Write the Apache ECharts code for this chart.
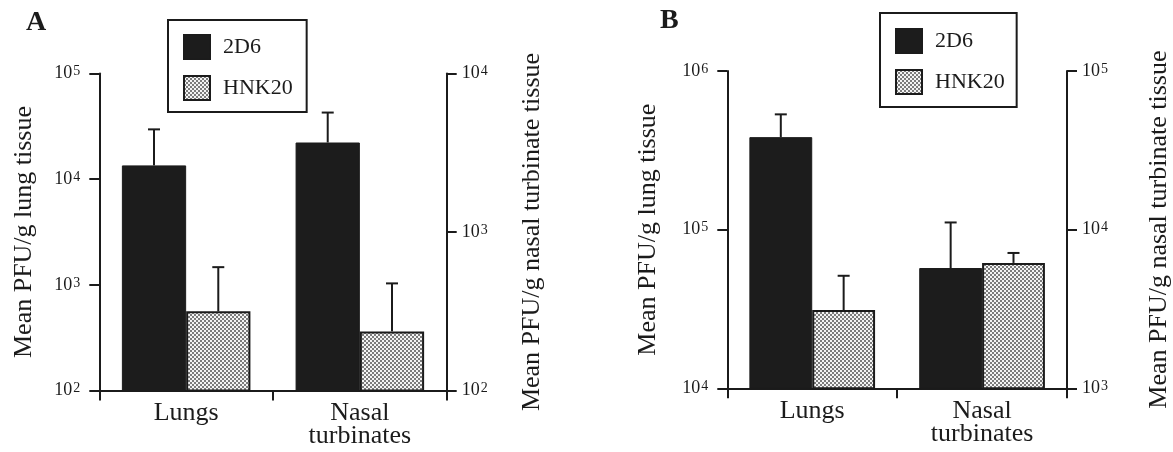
<!DOCTYPE html>
<html>
<head>
<meta charset="utf-8">
<script src="https://cdn.jsdelivr.net/npm/echarts@6/dist/echarts.min.js"></script>
<style>
  html, body { margin: 0; padding: 0; background: #fff; }
  #chart { width: 1173px; height: 452px; }
</style>
</head>
<body>
<div id="chart"></div>
<script>
// ---------------- data ----------------
const categories = ['Lungs', 'Nasal\nturbinates'];
const seriesNames = ['2D6', 'HNK20'];
// values: [Lungs (left axis), Nasal turbinates (right axis)]
const panelA_2D6 = [13500, 3670];
const panelA_2D6_upper = [29600, 5670];
const panelA_HNK20 = [561, 236];
const panelA_HNK20_upper = [1470, 474];
const panelB_2D6 = [383000, 5730];
const panelB_2D6_upper = [533000, 11100];
const panelB_HNK20 = [31100, 6170];
const panelB_HNK20_upper = [51200, 7130];
// axis ranges [min, max]
const axisA_left = [100, 100000];
const axisA_right = [100, 10000];
const axisB_left = [10000, 1000000];
const axisB_right = [1000, 100000];
const panelLabels = ['A', 'B'];
const leftAxisTitle = 'Mean PFU/g lung tissue';
const rightAxisTitle = 'Mean PFU/g nasal turbinate tissue';

// ---------------- styles ----------------
const INK = '#1b1b1b';
const FONT = '"Liberation Serif", "Times New Roman", serif';

function makePattern() {
  const c = document.createElement('canvas');
  c.width = 4; c.height = 4;
  const ctx = c.getContext('2d');
  ctx.fillStyle = '#f4f4f4';
  ctx.fillRect(0, 0, 4, 4);
  ctx.fillStyle = '#7c7c7c';
  ctx.fillRect(0, 0, 2, 2);
  ctx.fillRect(2, 2, 2, 2);
  return { image: c, repeat: 'repeat' };
}
const pattern = makePattern();

const seriesStyles = [
  { color: '#1c1c1c', borderColor: INK, borderWidth: 1 },
  { color: pattern, borderColor: INK, borderWidth: 2 }
];

const tickLabel = {
  color: INK,
  fontFamily: FONT,
  formatter: function (v) {
    const e = Math.round(Math.log10(v));
    return '{b|10}{s|' + e + '}';
  },
  rich: {
    b: { fontSize: 18, fontFamily: FONT, color: INK, lineHeight: 18, verticalAlign: 'bottom' },
    s: { fontSize: 14, fontFamily: FONT, color: INK, lineHeight: 14, verticalAlign: 'top', padding: [0, 0, 10, 1] }
  }
};

const axisLineStyle = { show: true, lineStyle: { color: INK, width: 2 } };
const axisTickStyle = { show: true, inside: false, length: 10, lineStyle: { color: INK, width: 2 } };

const grids = [
  { left: 99.3, right: 1173 - 446.7, top: 73.5, bottom: 452 - 390.5 },
  { left: 727.3, right: 1173 - 1072.3, top: 71, bottom: 452 - 388.3 }
];

const panels = [
  { v2d6: panelA_2D6, u2d6: panelA_2D6_upper, vh: panelA_HNK20, uh: panelA_HNK20_upper,
    left: axisA_left, right: axisA_right, gapL: 62, gapR: 72 },
  { v2d6: panelB_2D6, u2d6: panelB_2D6_upper, vh: panelB_HNK20, uh: panelB_HNK20_upper,
    left: axisB_left, right: axisB_right, gapL: 66, gapR: 79 }
];

const xAxes = [], yAxes = [], series = [];

function errRender(sign) {
  return function (params, api) {
    const c = api.value(0);
    const p0 = api.coord([c, api.value(1)]);
    const p1 = api.coord([c, api.value(2)]);
    const bw = api.size([1, 1], [c, api.value(1)])[0];
    const x = p0[0] + sign * bw * 0.185;
    return {
      type: 'group',
      children: [
        { type: 'line', shape: { x1: x, y1: p0[1], x2: x, y2: p1[1] }, style: { stroke: INK, lineWidth: 2 } },
        { type: 'line', shape: { x1: x - 6, y1: p1[1], x2: x + 6, y2: p1[1] }, style: { stroke: INK, lineWidth: 2 } }
      ]
    };
  };
}

panels.forEach(function (p, g) {
  xAxes.push({
    gridIndex: g, type: 'category', data: categories, position: 'bottom',
    axisLine: axisLineStyle, axisTick: axisTickStyle,
    axisLabel: { interval: 0, margin: 11, fontSize: 26, lineHeight: 23, fontFamily: FONT, color: INK },
    splitLine: { show: false }
  });
  xAxes.push({ gridIndex: g, type: 'category', data: categories, position: 'bottom', show: false });
  yAxes.push({
    gridIndex: g, type: 'log', logBase: 10, position: 'left', min: p.left[0], max: p.left[1],
    name: leftAxisTitle, nameLocation: 'middle', nameRotate: 90, nameGap: p.gapL,
    nameTextStyle: { fontSize: 26, fontFamily: FONT, color: INK },
    axisLine: axisLineStyle, axisTick: axisTickStyle, splitLine: { show: false },
    minorTick: { show: false },
    axisLabel: Object.assign({ margin: 19 }, tickLabel)
  });
  yAxes.push({
    gridIndex: g, type: 'log', logBase: 10, position: 'right', min: p.right[0], max: p.right[1],
    name: rightAxisTitle, nameLocation: 'middle', nameRotate: 90, nameGap: p.gapR,
    nameTextStyle: { fontSize: 26, fontFamily: FONT, color: INK },
    axisLine: axisLineStyle, axisTick: axisTickStyle, splitLine: { show: false },
    minorTick: { show: false },
    axisLabel: Object.assign({ margin: 15 }, tickLabel)
  });
  const xl = 2 * g, xr = 2 * g + 1, yl = 2 * g, yr = 2 * g + 1;
  const vals = [p.v2d6, p.vh];
  const ups = [p.u2d6, p.uh];
  [0, 1].forEach(function (s) {
    series.push({
      name: seriesNames[s], type: 'bar', xAxisIndex: xl, yAxisIndex: yl,
      data: [vals[s][0], '-'], barGap: '0%', barCategoryGap: '26%',
      itemStyle: seriesStyles[s], clip: true, z: 2
    });
  });
  [0, 1].forEach(function (s) {
    series.push({
      name: seriesNames[s], type: 'bar', xAxisIndex: xr, yAxisIndex: yr,
      data: ['-', vals[s][1]], barGap: '0%', barCategoryGap: '26%',
      itemStyle: seriesStyles[s], clip: true, z: 2
    });
  });
  [0, 1].forEach(function (s) {
    const sign = s === 0 ? -1 : 1;
    series.push({
      name: 'err', type: 'custom', xAxisIndex: xl, yAxisIndex: yl, z: 3, silent: true,
      renderItem: errRender(sign), encode: { x: 0, y: [1, 2] },
      data: [[0, vals[s][0], ups[s][0]]]
    });
    series.push({
      name: 'err', type: 'custom', xAxisIndex: xr, yAxisIndex: yr, z: 3, silent: true,
      renderItem: errRender(sign), encode: { x: 0, y: [1, 2] },
      data: [[1, vals[s][1], ups[s][1]]]
    });
  });
});

const legendCommon = {
  orient: 'vertical', data: seriesNames, icon: 'rect',
  itemWidth: 26, itemHeight: 24, itemGap: 15,
  borderColor: INK, borderWidth: 2, backgroundColor: '#fff',
  selectedMode: false,
  textStyle: { fontSize: 22, fontFamily: FONT, color: INK, padding: [0, 0, 0, 8] }
};

const option = {
  animation: false,
  backgroundColor: '#fff',
  title: [
    { text: panelLabels[0], left: 21, top: 4, textStyle: { fontSize: 28, fontWeight: 'bold', fontFamily: FONT, color: INK } },
    { text: panelLabels[1], left: 655, top: 2, textStyle: { fontSize: 28, fontWeight: 'bold', fontFamily: FONT, color: INK } }
  ],
  grid: grids,
  legend: [
    Object.assign({ left: 168, top: 20, padding: [14, 14, 11, 15] }, legendCommon),
    Object.assign({ left: 880, top: 13, padding: [15, 12, 12, 15] }, legendCommon)
  ],
  xAxis: xAxes,
  yAxis: yAxes,
  series: series
};

const chart = echarts.init(document.getElementById('chart'), null, { renderer: 'canvas' });
chart.setOption(option);
</script>
</body>
</html>
